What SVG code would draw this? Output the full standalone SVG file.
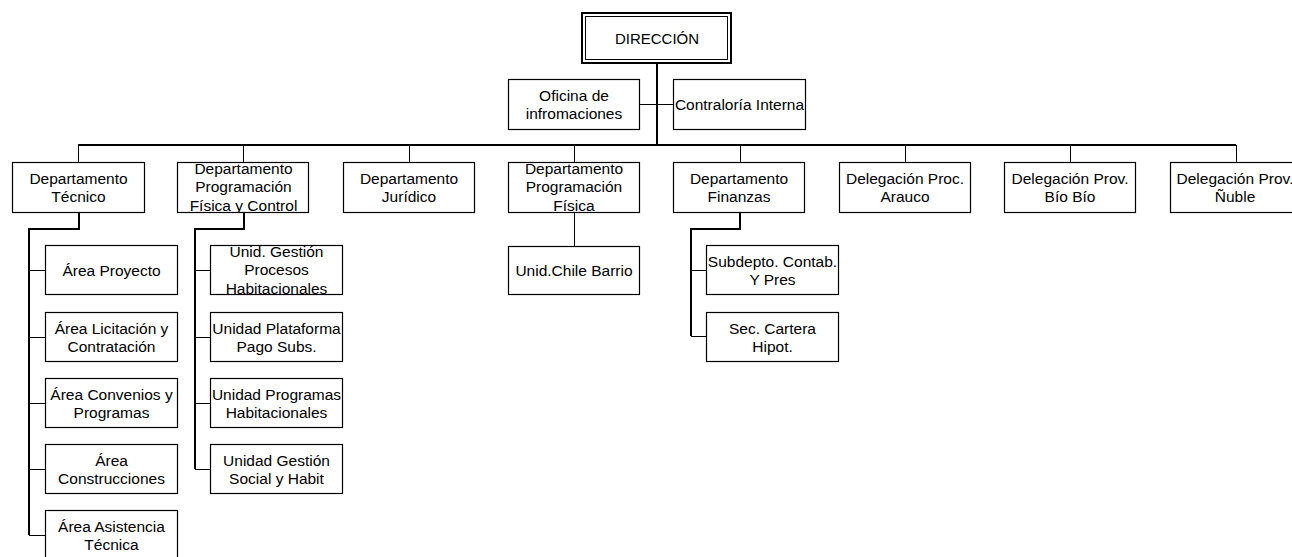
<svg xmlns="http://www.w3.org/2000/svg" width="1292" height="557" viewBox="0 0 1292 557">
<style>
.b{fill:#fff;stroke:#000;stroke-width:1.2}
.t{font-family:"Liberation Sans",Arial,sans-serif;font-size:15.5px;fill:#000;text-anchor:middle}
.c1{stroke:#000;stroke-width:1;fill:none}
.c2{stroke:#000;stroke-width:2;fill:none}
</style>
<defs>
<clipPath id="k1"><rect x="177" y="162" width="132" height="51"/></clipPath>
<clipPath id="k2"><rect x="508" y="162" width="132" height="51"/></clipPath>
<clipPath id="k3"><rect x="210" y="245" width="133" height="50"/></clipPath>
</defs>
<rect width="1292" height="557" fill="#fff"/>
<g id="connectors">
<path class="c2" d="M657,63V145M78,145H1236"/>
<path class="c1" d="M639,104.5H673"/>
<path class="c1" d="M78.5,145V162M243.5,145V162M409.5,145V162M574.5,145V162M740.5,145V162M905.5,145V162M1070.5,145V162M1236.5,145V162"/>
<path class="c2" d="M79,212V229H29V535"/>
<path class="c1" d="M29,270.5H45M29,337.5H45M29,403.5H45M29,469.5H45M29,535.5H45"/>
<path class="c2" d="M244,212V229H195V469"/>
<path class="c1" d="M195,270.5H210M195,337.5H210M195,403.5H210M195,469.5H210"/>
<path class="c1" d="M574.5,212V246"/>
<path class="c2" d="M740,212V229H691V336"/>
<path class="c1" d="M691,270.5H706M691,336.5H706"/>
</g>
<g id="direccion">
<rect x="582" y="13" width="149" height="50" fill="#fff" stroke="#000" stroke-width="2"/>
<rect x="585.5" y="16.5" width="142" height="43" fill="none" stroke="#000" stroke-width="1"/>
<text class="t" x="657" y="43.5" style="font-size:15px">DIRECCIÓN</text>
</g>
<g id="oficina">
<rect class="b" x="508.5" y="79.5" width="131" height="50"/>
<text class="t" x="574" y="100.5">Oficina de</text>
<text class="t" x="574" y="118.5">infromaciones</text>
</g>
<g id="contraloria">
<rect class="b" x="673.5" y="79.5" width="132" height="50"/>
<text class="t" x="739.5" y="110">Contraloría Interna</text>
</g>
<g id="dep-tecnico">
<rect class="b" x="12.5" y="162.5" width="132" height="50"/>
<text class="t" x="78.5" y="183.5">Departamento</text>
<text class="t" x="78.5" y="201.5">Técnico</text>
</g>
<g id="dep-pfyc">
<rect x="177.5" y="162.5" width="131" height="50" fill="#fff"/>
<g clip-path="url(#k1)">
<text class="t" x="243.5" y="173.5">Departamento</text>
<text class="t" x="243.5" y="192">Programación</text>
<text class="t" x="243.5" y="210.5">Física y Control</text>
</g>
<rect x="177.5" y="162.5" width="131" height="50" fill="none" stroke="#000" stroke-width="1.2"/>
</g>
<g id="dep-juridico">
<rect class="b" x="343.5" y="162.5" width="131" height="50"/>
<text class="t" x="409" y="183.5">Departamento</text>
<text class="t" x="409" y="201.5">Jurídico</text>
</g>
<g id="dep-pf">
<rect x="508.5" y="162.5" width="131" height="50" fill="#fff"/>
<g clip-path="url(#k2)">
<text class="t" x="574" y="173.5">Departamento</text>
<text class="t" x="574" y="192">Programación</text>
<text class="t" x="574" y="210.5">Física</text>
</g>
<rect x="508.5" y="162.5" width="131" height="50" fill="none" stroke="#000" stroke-width="1.2"/>
</g>
<g id="dep-finanzas">
<rect class="b" x="673.5" y="162.5" width="131" height="50"/>
<text class="t" x="739" y="183.5">Departamento</text>
<text class="t" x="739" y="201.5">Finanzas</text>
</g>
<g id="del-arauco">
<rect class="b" x="839.5" y="162.5" width="131" height="50"/>
<text class="t" x="905" y="183.5">Delegación Proc.</text>
<text class="t" x="905" y="201.5">Arauco</text>
</g>
<g id="del-biobio">
<rect class="b" x="1004.5" y="162.5" width="131" height="50"/>
<text class="t" x="1070" y="183.5">Delegación Prov.</text>
<text class="t" x="1070" y="201.5">Bío Bío</text>
</g>
<g id="del-nuble">
<rect class="b" x="1170.5" y="162.5" width="132" height="50"/>
<text class="t" x="1235" y="183.5">Delegación Prov.</text>
<text class="t" x="1235" y="201.5">Ñuble</text>
</g>
<g id="area-proyecto">
<rect class="b" x="45.5" y="245.5" width="132" height="49"/>
<text class="t" x="111.5" y="275.5">Área Proyecto</text>
</g>
<g id="area-licitacion">
<rect class="b" x="45.5" y="312.5" width="132" height="49"/>
<text class="t" x="111.5" y="333.5">Área Licitación y</text>
<text class="t" x="111.5" y="351.5">Contratación</text>
</g>
<g id="area-convenios">
<rect class="b" x="45.5" y="378.5" width="132" height="49"/>
<text class="t" x="111.5" y="399.5">Área Convenios y</text>
<text class="t" x="111.5" y="417.5">Programas</text>
</g>
<g id="area-construcciones">
<rect class="b" x="45.5" y="444.5" width="132" height="49"/>
<text class="t" x="111.5" y="465.5">Área</text>
<text class="t" x="111.5" y="483.5">Construcciones</text>
</g>
<g id="area-asistencia">
<rect class="b" x="45.5" y="510.5" width="132" height="50"/>
<text class="t" x="111.5" y="531.5">Área Asistencia</text>
<text class="t" x="111.5" y="549.5">Técnica</text>
</g>
<g id="unid-gestion-procesos">
<rect x="210.5" y="245.5" width="132" height="49" fill="#fff"/>
<g clip-path="url(#k3)">
<text class="t" x="276.5" y="256.5">Unid. Gestión</text>
<text class="t" x="276.5" y="275">Procesos</text>
<text class="t" x="276.5" y="293.5">Habitacionales</text>
</g>
<rect x="210.5" y="245.5" width="132" height="49" fill="none" stroke="#000" stroke-width="1.2"/>
</g>
<g id="unid-plataforma">
<rect class="b" x="210.5" y="312.5" width="132" height="49"/>
<text class="t" x="276.5" y="333.5">Unidad Plataforma</text>
<text class="t" x="276.5" y="351.5">Pago Subs.</text>
</g>
<g id="unid-programas">
<rect class="b" x="210.5" y="378.5" width="132" height="49"/>
<text class="t" x="276.5" y="399.5">Unidad Programas</text>
<text class="t" x="276.5" y="417.5">Habitacionales</text>
</g>
<g id="unid-gestion-social">
<rect class="b" x="210.5" y="444.5" width="132" height="49"/>
<text class="t" x="276.5" y="465.5">Unidad Gestión</text>
<text class="t" x="276.5" y="483.5">Social y Habit</text>
</g>
<g id="unid-chile-barrio">
<rect class="b" x="508.5" y="246.5" width="131" height="48"/>
<text class="t" x="574" y="276">Unid.Chile Barrio</text>
</g>
<g id="subdepto-contab">
<rect class="b" x="706.5" y="245.5" width="132" height="49"/>
<text class="t" x="772.5" y="266.5">Subdepto. Contab.</text>
<text class="t" x="772.5" y="284.5">Y Pres</text>
</g>
<g id="sec-cartera">
<rect class="b" x="706.5" y="312.5" width="132" height="49"/>
<text class="t" x="772.5" y="333.5">Sec. Cartera</text>
<text class="t" x="772.5" y="351.5">Hipot.</text>
</g>
</svg>
